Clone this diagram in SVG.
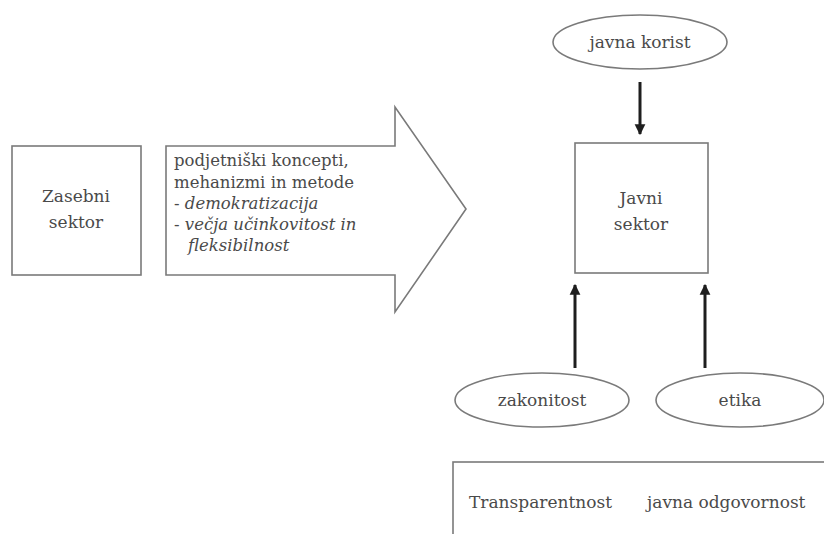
<svg xmlns="http://www.w3.org/2000/svg" width="824" height="534" viewBox="0 0 824 534">
  <defs>
    <style>
      .box { fill: #fff; stroke: #7a7a7a; stroke-width: 1.6; }
      .lbl { fill: #4a4a4a; }
      .mid { text-anchor: middle; }
      .it { font-style: italic; }
      .conn { stroke: #1e1e1e; stroke-width: 3; fill: none; }
    </style>
    <marker id="head" viewBox="0 0 10 10" refX="9" refY="5" markerWidth="3.6" markerHeight="9" markerUnits="strokeWidth" orient="auto">
      <path d="M0,0 L10,5 L0,10 Z" fill="#1e1e1e"/>
    </marker>
  </defs>
  <rect width="824" height="534" fill="#fff"/>

  <g font-family="DejaVu Serif, serif" font-size="17">
    <g id="zasebni-sektor">
      <rect class="box" x="12" y="146" width="129" height="129"/>
      <text class="lbl mid" x="76" y="202">Zasebni</text>
      <text class="lbl mid" x="76" y="228">sektor</text>
    </g>

    <g id="prenos" font-size="16.5">
      <polygon class="box" points="166,146 395,146 395,107 466,209 395,312 395,275 166,275"/>
      <text class="lbl" x="174" y="166">podjetniški koncepti,</text>
      <text class="lbl" x="174" y="188">mehanizmi in metode</text>
      <text class="lbl" x="174" y="209">- <tspan class="it">demokratizacija</tspan></text>
      <text class="lbl" x="174" y="230">- <tspan class="it">večja učinkovitost in</tspan></text>
      <text class="lbl it" x="188" y="251">fleksibilnost</text>
    </g>

    <g id="javna-korist">
      <ellipse class="box" cx="640" cy="42" rx="87" ry="27"/>
      <text class="lbl mid" x="640" y="48">javna korist</text>
    </g>

    <g id="javni-sektor">
      <rect class="box" x="575" y="143" width="133" height="130"/>
      <text class="lbl mid" x="641" y="204">Javni</text>
      <text class="lbl mid" x="641" y="230">sektor</text>
    </g>

    <g id="zakonitost">
      <ellipse class="box" cx="542" cy="400" rx="87" ry="27"/>
      <text class="lbl mid" x="542" y="406">zakonitost</text>
    </g>

    <g id="etika">
      <ellipse class="box" cx="740" cy="400" rx="84" ry="27"/>
      <text class="lbl mid" x="740" y="406">etika</text>
    </g>

    <g id="nacela">
      <rect class="box" x="453" y="462" width="380" height="90"/>
      <text class="lbl" x="469" y="508">Transparentnost</text>
      <text class="lbl" x="647" y="508">javna odgovornost</text>
    </g>
  </g>

  <g id="povezave">
    <line class="conn" x1="640" y1="82" x2="640" y2="134" marker-end="url(#head)"/>
    <line class="conn" x1="575" y1="368" x2="575" y2="285" marker-end="url(#head)"/>
    <line class="conn" x1="705" y1="368" x2="705" y2="285" marker-end="url(#head)"/>
  </g>
</svg>
